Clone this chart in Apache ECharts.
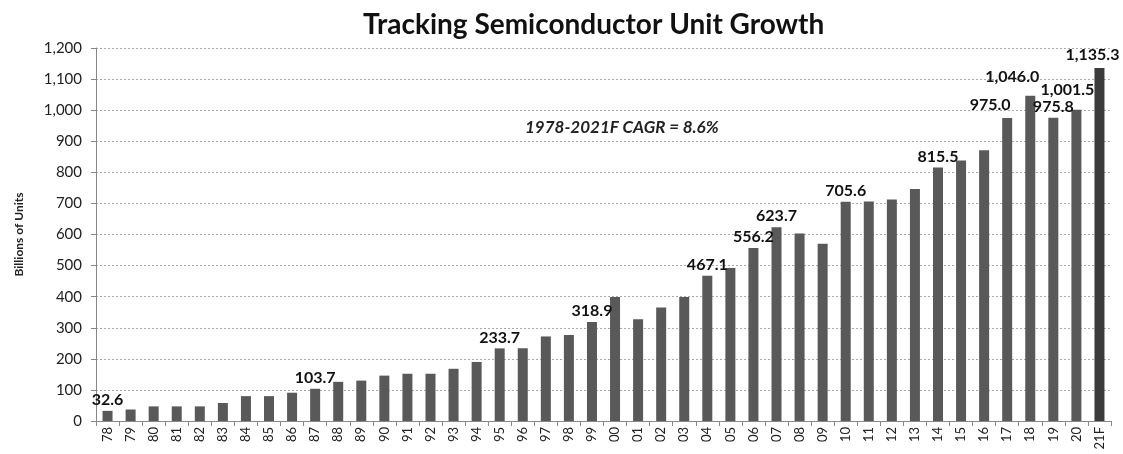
<!DOCTYPE html>
<html>
<head>
<meta charset="utf-8">
<script src="https://cdn.jsdelivr.net/npm/echarts@6/dist/echarts.min.js"></script>
<style>
  html, body { margin: 0; padding: 0; background: #fff; }
  #chart { width: 1123px; height: 454px; }
</style>
</head>
<body>
<div id="chart"></div>
<script>
var years = ['78', '79', '80', '81', '82', '83', '84', '85', '86', '87', '88', '89', '90', '91', '92',
    '93', '94', '95', '96', '97', '98', '99', '00', '01', '02', '03', '04', '05', '06', '07', '08',
    '09', '10', '11', '12', '13', '14', '15', '16', '17', '18', '19', '20', '21F'];

var units = [32.6, 37, 47, 47, 47, 58, 80, 80, 91, 103.7, 126, 130, 146, 152, 152,
    168, 190, 233.7, 234, 272, 277, 318.9, 399, 327, 365, 399, 467.1, 492, 556.2, 623.7, 603,
    570, 705.6, 706, 713, 746, 815.5, 838, 871, 975.0, 1046.0, 975.8, 1001.5, 1135.3];

// years that carry a value label
var labelled = ['78', '87', '95', '99', '04', '06', '07', '10', '14', '17', '18', '19', '20', '21F'];

var yTicks = { min: 0, max: 1200, step: 100 };

function fmt(v, dec) {
    return v.toLocaleString('en-US', { minimumFractionDigits: dec, maximumFractionDigits: dec });
}

// small nudges so labels sit like the original
var nudge = { '17': [-17, -2], '18': [-18, -8], '19': [0, 0], '20': [-9, -9], '21F': [-7, -2] };

var barData = units.map(function (v, i) {
    var y = years[i];
    var item = { value: v };
    if (y === '21F') {
        item.itemStyle = { color: '#3b3b3b' };
    }
    if (labelled.indexOf(y) >= 0) {
        item.label = {
            show: true,
            position: 'top',
            distance: 3,
            offset: nudge[y] || [0, 0],
            formatter: function (p) { return fmt(p.value, 1); }
        };
    }
    return item;
});

var chart = echarts.init(document.getElementById('chart'));
chart.setOption({
    animation: false,
    textStyle: { fontFamily: 'Lato' },
    title: {
        text: 'Tracking Semiconductor Unit Growth',
        left: 358,
        top: 6,
        textStyle: { fontSize: 28, fontWeight: 'bold', color: '#111', fontFamily: 'Lato' }
    },
    graphic: [{
        type: 'text',
        left: 525,
        top: 119,
        style: {
            text: '1978-2021F CAGR = 8.6%',
            font: 'italic bold 17px Lato',
            fill: '#222'
        }
    }],
    grid: { left: 96, right: 12, top: 48, bottom: 33, outerBoundsMode: 'none', containLabel: false },
    xAxis: {
        type: 'category',
        data: years,
        axisLine: { lineStyle: { color: '#888' } },
        axisTick: { show: true, alignWithLabel: false, length: 5, lineStyle: { color: '#888' } },
        axisLabel: { rotate: 90, interval: 0, fontSize: 13, color: '#222', margin: 6 }
    },
    yAxis: {
        type: 'value',
        min: yTicks.min,
        max: yTicks.max,
        interval: yTicks.step,
        name: 'Billions of Units',
        nameLocation: 'middle',
        nameGap: 71,
        nameTextStyle: { fontSize: 12, fontWeight: 'bold', color: '#222' },
        axisLine: { show: true, lineStyle: { color: '#888' } },
        axisTick: { show: true, length: 5, lineStyle: { color: '#888' } },
        axisLabel: {
            fontSize: 15,
            color: '#222',
            margin: 14,
            formatter: function (v) { return fmt(v, 0); }
        },
        splitLine: { show: true, lineStyle: { color: '#aaa', type: [2, 2] } }
    },
    series: [{
        type: 'bar',
        data: barData,
        barWidth: 10,
        itemStyle: { color: '#595959' },
        label: { fontSize: 16, fontWeight: 'bold', color: '#111' }
    }]
});
</script>
</body>
</html>
